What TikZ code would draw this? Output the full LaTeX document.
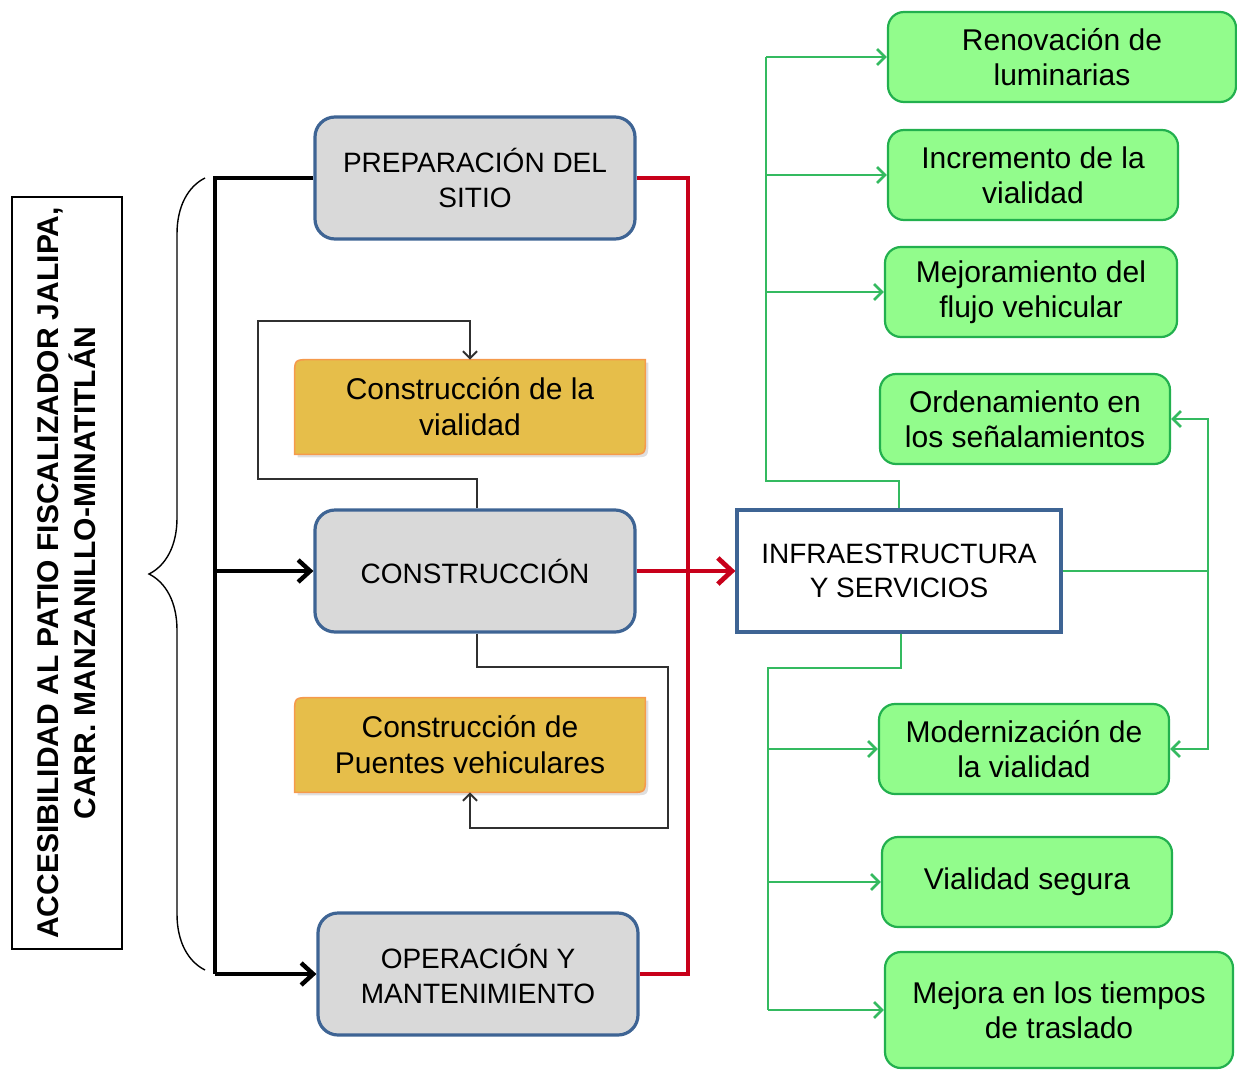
\documentclass[tikz,border=0pt]{standalone}
\usepackage{fontspec}
\setmainfont{Liberation Sans}
\usepackage{xcolor}
\usetikzlibrary{arrows.meta,backgrounds,shadows,decorations.pathreplacing}
\definecolor{faseFill}{HTML}{D9D9D9}
\definecolor{faseRule}{HTML}{3E6494}
\definecolor{obraFill}{HTML}{E6BE4A}
\definecolor{obraRule}{HTML}{F59A4C}
\definecolor{impactoFill}{HTML}{92FC8C}
\definecolor{impactoRule}{HTML}{22B04E}
\definecolor{impactoLine}{HTML}{34BA60}
\definecolor{flujoRed}{HTML}{C8001A}
\definecolor{lazoGray}{HTML}{303030}

% outline of the work boxes: rounded top-left and bottom-right corners only
\newcommand\obraShape[1]{([yshift=-8pt]#1.north west) .. controls (#1.north west) .. ([xshift=8pt]#1.north west)
  -- (#1.north east) -- ([yshift=8pt]#1.south east) .. controls (#1.south east) .. ([xshift=-8pt]#1.south east)
  -- (#1.south west) -- cycle}

\tikzset{
  faseBox/.style={
    draw=faseRule,
    fill=faseFill,
    rounded corners=10pt,
    line width=1.6pt,
    align=center,
    minimum width=160pt,
    minimum height=61pt,
    font=\fontsize{14}{17.5}\selectfont
  },
  obraBox/.style={
    align=center,
    minimum width=175pt,
    minimum height=47pt,
    font=\fontsize{15}{18}\selectfont
  },
  obraShade/.style={
    draw=obraRule,
    fill=obraFill,
    line width=0.8pt,
    drop shadow={shadow xshift=1.5pt, shadow yshift=-1.5pt, opacity=0.25}
  },
  infraBox/.style={
    draw=faseRule,
    fill=white,
    line width=1.6pt,
    align=center,
    minimum width=162pt,
    minimum height=61pt,
    font=\fontsize{14}{17}\selectfont
  },
  impactoBox/.style={
    draw=impactoRule,
    fill=impactoFill,
    rounded corners=8pt,
    line width=1.1pt,
    align=center,
    minimum width=145pt,
    minimum height=45pt,
    font=\fontsize{15}{17.5}\selectfont
  },
  busLine/.style={draw=black, line width=2.2pt},
  busArrow/.style={busLine, -{Straight Barb[length=6pt,width=11pt,line width=2.2pt]}},
  redLine/.style={draw=flujoRed, line width=1.8pt},
  redArrow/.style={redLine, -{Straight Barb[length=7pt,width=13pt,line width=2.4pt]}},
  greenLine/.style={draw=impactoLine, line width=1.4pt},
  greenArrow/.style={greenLine, -{Straight Barb[length=4pt,width=8pt,line width=1.3pt]}},
  loopArrow/.style={draw=lazoGray, line width=1pt, -{Straight Barb[length=3.5pt,width=7pt]}}
}

\begin{document}
\begin{tikzpicture}[x=0.5pt, y=-0.5pt]
\useasboundingbox (0,0) rectangle (1237,1071);

% title box on the left
\node[draw, line width=0.8pt, minimum width=55pt, minimum height=376pt] (titulo) at (67,573) {};
\node[rotate=90, align=center, font=\bfseries\fontsize{15}{18.5}\selectfont] (tituloTxt) at (titulo.center)
  {ACCESIBILIDAD AL PATIO FISCALIZADOR JALIPA,\\CARR. MANZANILLO-MINATITLÁN};

% project phases
\node[faseBox] (prep)   at (475,178) {PREPARACIÓN DEL\\SITIO};
\node[faseBox] (constr) at (475,571) {CONSTRUCCIÓN};
\node[faseBox] (oper)   at (478,974) {OPERACIÓN Y\\MANTENIMIENTO};

\node[obraBox] (vial)   at (470,407) {Construcción de la\\vialidad};
\node[obraBox] (puente) at (470,745) {Construcción de\\Puentes vehiculares};
\begin{scope}[on background layer]
  \filldraw[obraShade] \obraShape{vial};
  \filldraw[obraShade] \obraShape{puente};
\end{scope}

\node[infraBox] (infra) at (899,571) {INFRAESTRUCTURA\\Y SERVICIOS};

% expected benefits
\node[impactoBox, minimum width=174pt]   (renov)  at (1062,57)   {Renovación de\\luminarias};
\node[impactoBox]                        (incre)  at (1033,175)  {Incremento de la\\vialidad};
\node[impactoBox, minimum width=146pt]   (mejor)  at (1031,292)  {Mejoramiento del\\flujo vehicular};
\node[impactoBox]                        (orden)  at (1025,419)  {Ordenamiento en\\los señalamientos};
\node[impactoBox]                        (moder)  at (1024,749)  {Modernización de\\la vialidad};
\node[impactoBox]                        (segura) at (1027,882)  {Vialidad segura};
\node[impactoBox, minimum width=174pt, minimum height=58pt] (tiempo) at (1059,1010) {Mejora en los tiempos\\de traslado};

% brace and black bus
\draw[line width=0.7pt, decorate, decoration={brace, amplitude=28pt}] (205,970) -- (205,178);
\coordinate (bus) at (215,178);
\draw[busLine] (prep.west) -- (prep.west -| bus) -- (oper.west -| bus);
\draw[busArrow] (constr.west -| bus) -- (constr.west);
\draw[busArrow] (oper.west -| bus) -- (oper.west);

% loops of the construction phase
\draw[loopArrow] ([xshift=1pt]constr.north) -- ++(0,-29) -| (258,321) -| (vial.north);
\draw[loopArrow] ([xshift=1pt]constr.south) -- ++(0,33) -| (668,828) -| (puente.south);

% red collector
\coordinate (rojo) at (688,178);
\draw[redLine] (prep.east) -- (prep.east -| rojo) -- (oper.east -| rojo) -- (oper.east);
\draw[redArrow] (constr.east) -- (infra.west);

% green branches
\coordinate (verdeA) at (766,481);
\coordinate (verdeB) at (768,668);
\coordinate (verdeC) at (1208,571);
\draw[greenLine] (infra.north) |- (verdeA) -- (verdeA |- renov.west);
\foreach \dest in {renov, incre, mejor}
  \draw[greenArrow] (verdeA |- \dest.west) -- (\dest.west);
\draw[greenLine] ([xshift=1pt]infra.south) |- (verdeB) -- (verdeB |- tiempo.west);
\foreach \dest in {moder, segura, tiempo}
  \draw[greenArrow] (verdeB |- \dest.west) -- (\dest.west);
\draw[greenLine] (infra.east) -- (verdeC);
\draw[greenArrow] (verdeC) |- (orden.east);
\draw[greenArrow] (verdeC) |- (moder.east);
\end{tikzpicture}
\end{document}
